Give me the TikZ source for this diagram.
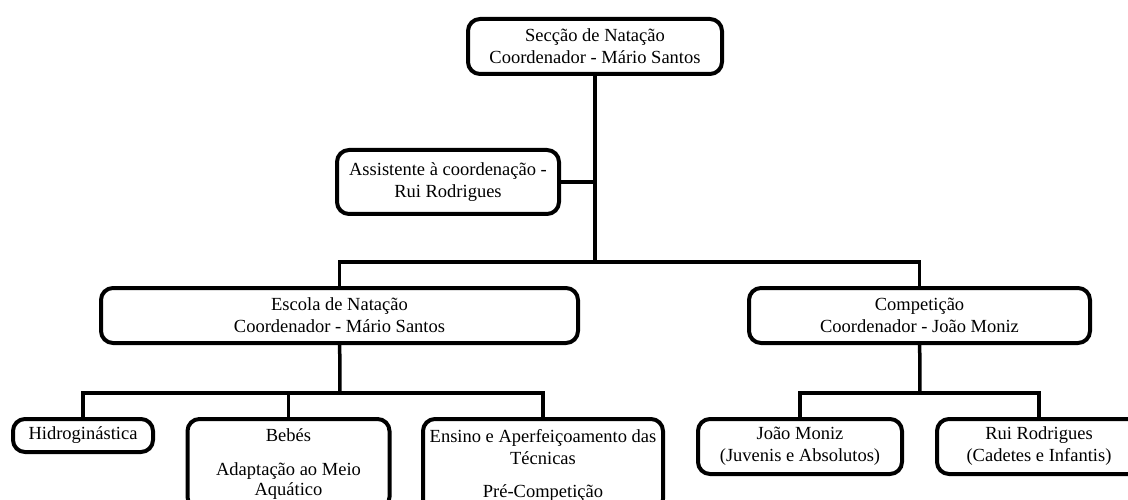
\documentclass[tikz,border=0pt]{standalone}
\usepackage{fontspec}
\setmainfont{Liberation Serif}
\usepackage{tikz}
\usetikzlibrary{calc}

\begin{document}
\begin{tikzpicture}[x=1pt, y=-1pt,
          box/.style={draw, line width=4pt, rounded corners=12pt, anchor=north,
            inner sep=0pt, align=center, font=\fontsize{18.5}{22}\selectfont},
          link/.style={line width=3.5pt}]
          \useasboundingbox (0,0) rectangle (1128,500);
          \clip (0,0) rectangle (1128,500);

          %%    % topo
          \node[box, minimum width=254pt, minimum height=55pt] (seccao) at (595,17)
            {Secção de Natação\\Coordenador - Mário Santos};
          \node[box, minimum width=222pt, minimum height=64pt] (assist) at (448,148)
            {Assistente à coordenação -\\Rui Rodrigues};

          %%    % escola e competicao
          \node[box, minimum width=477pt, minimum height=55pt] (escola) at (339.5,286)
            {Escola de Natação\\Coordenador - Mário Santos};
          \node[box, minimum width=341pt, minimum height=55pt] (comp) at (919.5,286)
            {Competição\\Coordenador - João Moniz};

          %%    % escola
          \node[box, minimum width=140pt, minimum height=33pt] (hidro) at (83,417)
            {Hidroginástica};
          \node[box, minimum width=202pt, minimum height=90pt] (bebes) at (288.5,417)
            {Bebés\\[12pt]Adaptação ao Meio\\[-2pt]Aquático};
          \node[box, minimum width=240pt, minimum height=92pt] (ensino) at (543,417)
            {Ensino e Aperfeiçoamento das\\Técnicas\\[11pt]Pré-Competição};

          %%    % competicao
          \node[box, minimum width=204pt, minimum height=55pt] (joao) at (800,417)
            {João Moniz\\(Juvenis e Absolutos)};
          \node[box, minimum width=204pt, minimum height=55pt] (rui) at (1039,417)
            {Rui Rodrigues\\(Cadetes e Infantis)};

          \coordinate (j1) at (595,262);
          \coordinate (j2) at (340,393);
          \coordinate (j3) at (920,393);

          \draw[link] (seccao) -- (j1);
          \draw[link] (assist.east) -- (assist.east -| j1);
          \draw[link] (j1) -| (escola);
          \draw[link] (j1) -| (comp);
          \draw[link] (escola) -- (j2);
          \foreach \n in {hidro,bebes,ensino} {
            \draw[link] (j2) -| (\n);
          }
          \draw[link] (comp) -- (j3);
          \foreach \n in {joao,rui} {
            \draw[link] (j3) -| (\n);
          }
\end{tikzpicture}
\end{document}
